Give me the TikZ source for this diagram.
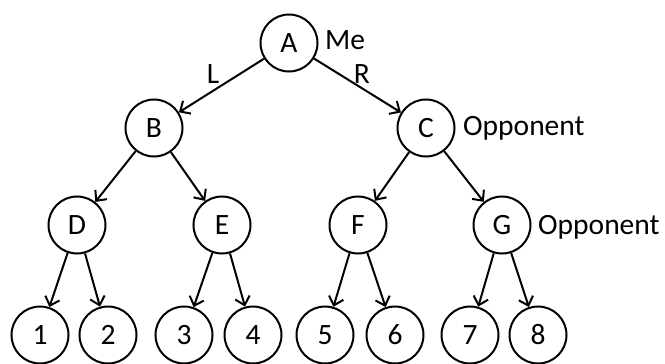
\documentclass[tikz,border=0pt]{standalone}
\usepackage{fontspec}
\setmainfont{Carlito}
\usetikzlibrary{arrows.meta}
\begin{document}
\begin{tikzpicture}[x=1pt,y=-1pt,
  st/.style={circle,draw,line width=2pt,minimum size=57pt,inner sep=0pt,font=\fontsize{29.5}{34}\selectfont},
  lbl/.style={font=\fontsize{29.5}{34}\selectfont,inner sep=0pt},
  edge/.style={line width=2pt,-{Straight Barb[length=8pt,width=15pt,line width=2pt]}}]
\useasboundingbox (0,0) rectangle (665,364);
\node[st] (A) at (289,43) {A};
\node[st] (B) at (154,128) {B};
\node[st] (C) at (426,128) {C};
\node[st] (D) at (77,225) {D};
\node[st] (E) at (222,225) {E};
\node[st] (F) at (358,225) {F};
\node[st] (G) at (502,225) {G};
\node[st] (n1) at (40,335) {1};
\node[st] (n2) at (108,335) {2};
\node[st] (n3) at (184,335) {3};
\node[st] (n4) at (253,335) {4};
\node[st] (n5) at (325,335) {5};
\node[st] (n6) at (395,335) {6};
\node[st] (n7) at (470,335) {7};
\node[st] (n8) at (538,335) {8};
\node[lbl] (me) at (345,40) {Me};
\node[lbl] (l) at (213,74) {L};
\node[lbl] (r) at (362,74) {R};
\node[lbl,anchor=west] (oc) at (463,128) {Opponent};
\node[lbl,anchor=west] (og) at (538,227) {Opponent};
\draw[edge] (A) -- (B);
\draw[edge] (A) -- (C);
\draw[edge] (B) -- (D);
\draw[edge] (B) -- (E);
\draw[edge] (C) -- (F);
\draw[edge] (C) -- (G);
\draw[edge] (D) -- (n1);
\draw[edge] (D) -- (n2);
\draw[edge] (E) -- (n3);
\draw[edge] (E) -- (n4);
\draw[edge] (F) -- (n5);
\draw[edge] (F) -- (n6);
\draw[edge] (G) -- (n7);
\draw[edge] (G) -- (n8);
\end{tikzpicture}
\end{document}
